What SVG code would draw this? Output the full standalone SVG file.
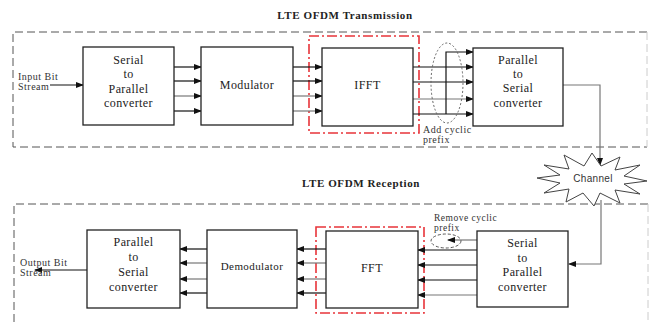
<svg xmlns="http://www.w3.org/2000/svg" width="649" height="322" viewBox="0 0 649 322">
<defs>
<marker id="ah" markerWidth="8" markerHeight="6" refX="7" refY="3" orient="auto" markerUnits="userSpaceOnUse">
<path d="M0,0 L8,3 L0,6 Z" fill="#111"/>
</marker>
<style>
.t{font-family:"Liberation Serif","Times New Roman",serif;font-size:12px;fill:#222;text-anchor:middle;letter-spacing:0.4px}
.s{font-family:"Liberation Serif","Times New Roman",serif;font-size:10px;fill:#333;letter-spacing:0.5px}
.title{font-family:"Liberation Serif","Times New Roman",serif;font-size:11px;font-weight:bold;fill:#222;text-anchor:middle;letter-spacing:0.6px}
.box{fill:#fff;stroke:#222;stroke-width:1.3}
.dash{fill:none;stroke:#555;stroke-width:1;stroke-dasharray:8,4}
.red{fill:none;stroke:#e8343a;stroke-width:1.6;stroke-dasharray:10,3,2,3}
.ln{stroke:#111;stroke-width:1.2;fill:none}
.lg{stroke:#777;stroke-width:1.2;fill:none}
</style>
</defs>
<rect width="649" height="322" fill="#fff"/>

<text class="title" x="345" y="19">LTE OFDM Transmission</text>
<text class="title" x="361" y="187">LTE OFDM Reception</text>

<g id="tx-frame">
<path class="dash" d="M647,32 H13 V147 H647"/>
<path d="M647,32 V147" fill="none" stroke="#ccc" stroke-dasharray="8,4"/>
</g>
<g id="rx-frame">
<path class="dash" d="M648,204 H14 V322"/>
<path d="M648,204 V322" fill="none" stroke="#ccc" stroke-dasharray="8,4"/>
</g>

<g id="tx-ifft-highlight"><rect class="red" x="309" y="36" width="110" height="97"/></g>
<g id="rx-fft-highlight"><rect class="red" x="316" y="227" width="108" height="86"/></g>

<g id="connectors">
<line class="ln" x1="50" y1="85" x2="83" y2="85" marker-end="url(#ah)"/>
<line class="ln" x1="174" y1="67" x2="201" y2="67" marker-end="url(#ah)"/>
<line class="ln" x1="174" y1="81" x2="201" y2="81" marker-end="url(#ah)"/>
<line class="lg" x1="174" y1="96" x2="201" y2="96" marker-end="url(#ah)"/>
<line class="ln" x1="174" y1="111" x2="201" y2="111" marker-end="url(#ah)"/>
<line class="ln" x1="293" y1="67" x2="322" y2="67" marker-end="url(#ah)"/>
<line class="ln" x1="293" y1="81" x2="322" y2="81" marker-end="url(#ah)"/>
<line class="lg" x1="293" y1="96" x2="322" y2="96" marker-end="url(#ah)"/>
<line class="lg" x1="293" y1="111" x2="322" y2="111" marker-end="url(#ah)"/>
<line class="ln" x1="413" y1="67" x2="473" y2="67" marker-end="url(#ah)"/>
<line class="ln" x1="413" y1="82" x2="473" y2="82" marker-end="url(#ah)"/>
<line class="lg" x1="413" y1="99" x2="473" y2="99" marker-end="url(#ah)"/>
<line class="ln" x1="413" y1="114" x2="473" y2="114" marker-end="url(#ah)"/>
<path class="ln" d="M446,114 V52 H473" marker-end="url(#ah)"/>
<ellipse cx="447" cy="83" rx="16" ry="40" fill="none" stroke="#666" stroke-width="1" stroke-dasharray="2,2"/>
<path class="lg" d="M563,85 H600 V165" marker-end="url(#ah)"/>
<path class="lg" d="M601,200 V264 H569" marker-end="url(#ah)"/>
<line class="ln" x1="477" y1="250" x2="418" y2="250" marker-end="url(#ah)"/>
<line class="ln" x1="477" y1="265" x2="418" y2="265" marker-end="url(#ah)"/>
<line class="ln" x1="477" y1="280" x2="418" y2="280" marker-end="url(#ah)"/>
<line class="lg" x1="477" y1="295" x2="418" y2="295" marker-end="url(#ah)"/>
<line class="lg" x1="477" y1="240" x2="448" y2="240" marker-end="url(#ah)"/>
<ellipse cx="446" cy="241" rx="15" ry="7" fill="none" stroke="#555" stroke-width="1" stroke-dasharray="3,2"/>
<line class="ln" x1="326" y1="249" x2="297" y2="249" marker-end="url(#ah)"/>
<line class="lg" x1="326" y1="263" x2="297" y2="263" marker-end="url(#ah)"/>
<line class="lg" x1="326" y1="279" x2="297" y2="279" marker-end="url(#ah)"/>
<line class="ln" x1="326" y1="293" x2="297" y2="293" marker-end="url(#ah)"/>
<line class="ln" x1="207" y1="249" x2="180" y2="249" marker-end="url(#ah)"/>
<line class="lg" x1="207" y1="263" x2="180" y2="263" marker-end="url(#ah)"/>
<line class="lg" x1="207" y1="279" x2="180" y2="279" marker-end="url(#ah)"/>
<line class="ln" x1="207" y1="293" x2="180" y2="293" marker-end="url(#ah)"/>
<line class="ln" x1="87" y1="270" x2="35" y2="270" marker-end="url(#ah)"/>
</g>

<g id="input-label">
<text class="s" x="18" y="80">Input Bit</text>
<text class="s" x="18" y="90">Stream</text>
</g>

<g id="tx-s2p">
<rect class="box" x="83" y="47" width="91" height="78"/>
<text class="t" x="128.5" y="64">Serial</text>
<text class="t" x="128.5" y="78">to</text>
<text class="t" x="128.5" y="93">Parallel</text>
<text class="t" x="128.5" y="107">converter</text>
</g>

<g id="modulator">
<rect class="box" x="201" y="47" width="92" height="78"/>
<text class="t" x="247" y="89">Modulator</text>
</g>

<g id="ifft">
<rect class="box" x="322" y="48" width="91" height="78"/>
<text class="t" x="367.5" y="89">IFFT</text>
</g>

<g id="add-cp-label">
<text class="s" x="423" y="133">Add cyclic</text>
<text class="s" x="423" y="143">prefix</text>
</g>

<g id="tx-p2s">
<rect class="box" x="473" y="48" width="90" height="78"/>
<text class="t" x="518" y="64">Parallel</text>
<text class="t" x="518" y="78">to</text>
<text class="t" x="518" y="92">Serial</text>
<text class="t" x="518" y="107">converter</text>
</g>

<g id="channel">
<polygon points="647,181 624,184 640,194 615,190 620,203 600,193 594,206 583,193 566,202 569,189 544,193 560,183 537,178 560,175 544,165 569,169 564,155 584,166 592,153 601,166 620,157 615,170 640,165 624,176" fill="#fff" stroke="#444" stroke-width="1"/>
<text x="593" y="182" font-family="'Liberation Sans',Arial,sans-serif" font-size="10" fill="#333" text-anchor="middle" letter-spacing="0.3">Channel</text>
</g>

<g id="remove-cp-label">
<text class="s" x="434" y="221" style="font-size:9.5px">Remove cyclic</text>
<text class="s" x="434" y="231" style="font-size:9.5px">prefix</text>
</g>

<g id="rx-s2p">
<rect class="box" x="477" y="231" width="91" height="76"/>
<text class="t" x="522.5" y="247">Serial</text>
<text class="t" x="522.5" y="262">to</text>
<text class="t" x="522.5" y="276">Parallel</text>
<text class="t" x="522.5" y="291">converter</text>
</g>

<g id="fft">
<rect class="box" x="326" y="231" width="92" height="77"/>
<text class="t" x="372" y="272">FFT</text>
</g>

<g id="demodulator">
<rect class="box" x="207" y="230" width="90" height="78"/>
<text class="t" x="252" y="270" style="font-size:11px">Demodulator</text>
</g>

<g id="rx-p2s">
<rect class="box" x="87" y="230" width="93" height="78"/>
<text class="t" x="133.5" y="246">Parallel</text>
<text class="t" x="133.5" y="261">to</text>
<text class="t" x="133.5" y="276">Serial</text>
<text class="t" x="133.5" y="291">converter</text>
</g>

<g id="output-label">
<text class="s" x="20" y="266">Output Bit</text>
<text class="s" x="20" y="276">Stream</text>
</g>
</svg>
